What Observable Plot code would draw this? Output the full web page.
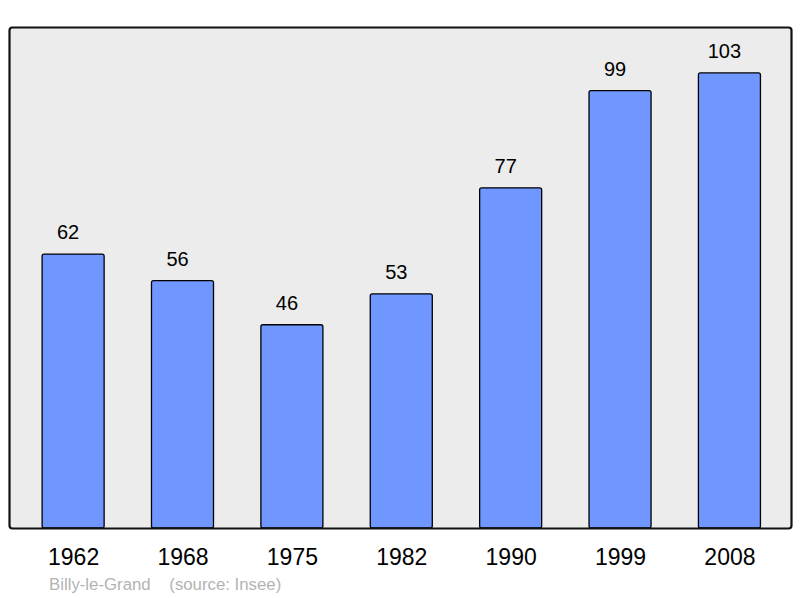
<!DOCTYPE html>
<html>
<head>
<meta charset="utf-8">
<script src="https://cdn.jsdelivr.net/npm/d3@7"></script>
<script src="https://cdn.jsdelivr.net/npm/@observablehq/plot@0.6"></script>
<style>
  body { margin: 0; background: #fff; font-family: "Liberation Sans", Arial, sans-serif; }
  #chart { position: relative; width: 800px; height: 598px; }
  #caption { position: absolute; left: 49px; top: 575px; font-size: 16.8px; color: #b3b3b3; white-space: pre; }
</style>
</head>
<body>
<div id="chart"></div>
<script>
const years = ["1962", "1968", "1975", "1982", "1990", "1999", "2008"];
const population = [62, 56, 46, 53, 77, 99, 103];
const captionText = "Billy-le-Grand    (source: Insee)";

const data = years.map((y, i) => ({year: y, value: population[i]}));

const plot = Plot.plot({
  width: 800,
  height: 570,
  marginTop: 27,
  marginBottom: 42,
  marginLeft: 9,
  marginRight: 9,
  style: {fontFamily: "'Liberation Sans', Arial, sans-serif", background: "transparent"},
  x: {domain: years, paddingInner: 0.433, paddingOuter: 0.291, align: 0.52, round: false, label: null},
  y: {domain: [0, 113.4], axis: null},
  marks: [
    Plot.frame({fill: "#ececec", stroke: "none", rx: 3}),
    Plot.barY(data, {x: "year", y: "value", fill: "#6f97ff", stroke: "#000", strokeWidth: 1.3, rx: 2}),
    Plot.text(data, {x: "year", y: "value", text: d => String(d.value), dx: -5.5, dy: -21.5, fontSize: 20, fill: "#000"}),
    Plot.frame({stroke: "#111", strokeWidth: 2.2, rx: 3}),
    Plot.axisX({tickSize: 0, tickPadding: 20, fontSize: 23, color: "#000", label: null})
  ]
});
document.getElementById("chart").appendChild(plot);
const cap = document.createElement("div");
cap.id = "caption";
cap.textContent = captionText;
document.getElementById("chart").appendChild(cap);
</script>
</body>
</html>
